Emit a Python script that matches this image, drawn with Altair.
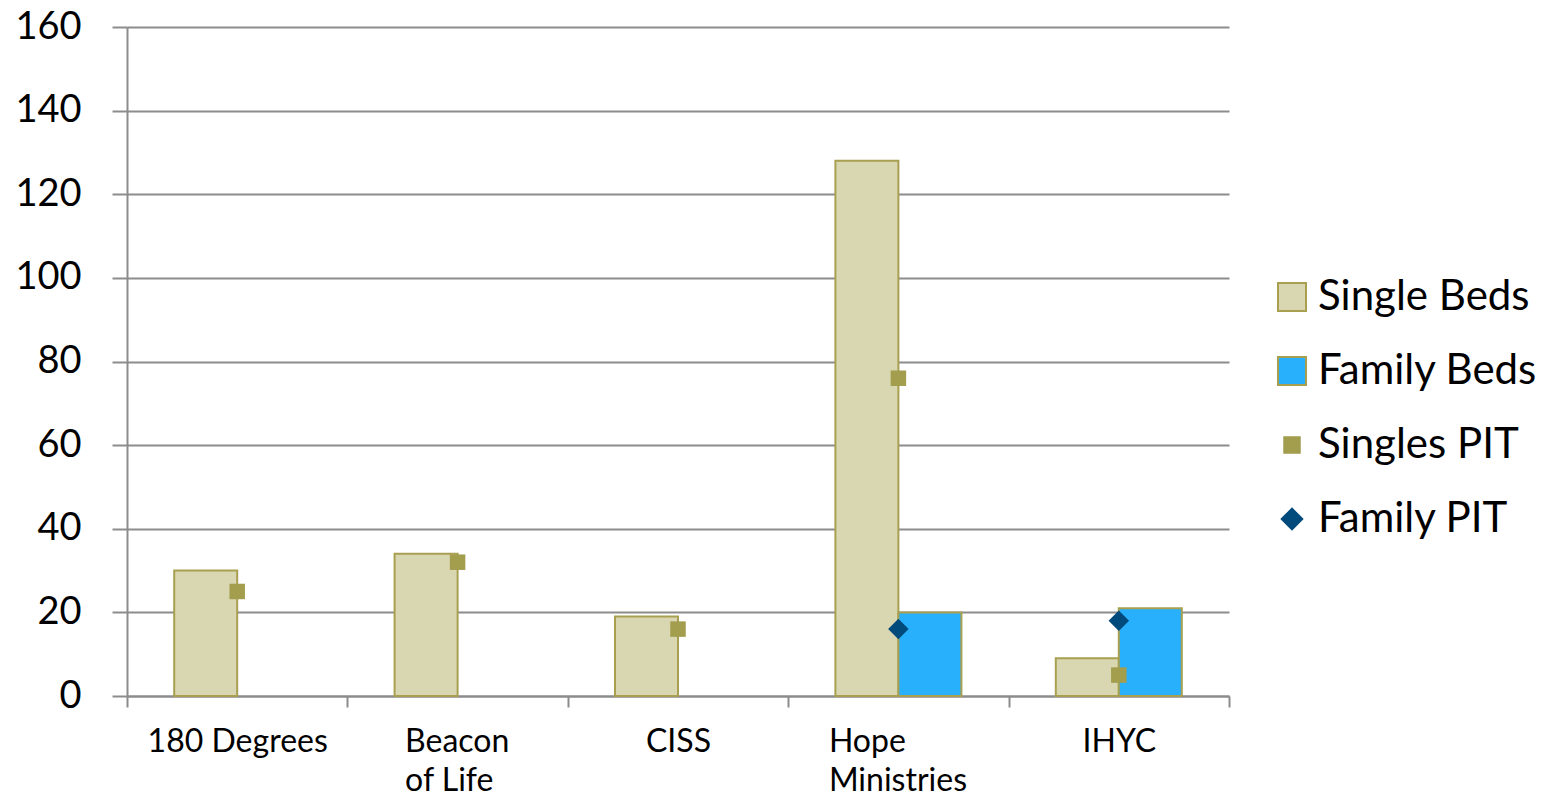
import altair as alt
import pandas as pd

categories = ["180 Degrees", "Beacon of Life", "CISS", "Hope Ministries", "IHYC"]
single_beds = [30, 34, 19, 128, 9]
family_beds = [None, None, None, 20, 21]
singles_pit = [25, 32, 16, 76, 5]
family_pit = [None, None, None, 16, 18]

series_names = ["Single Beds", "Family Beds", "Singles PIT", "Family PIT"]
fills = ["#d9d7b2", "#29b0fd", "#a39d4e", "#004a7c"]
strokes = ["#a8a050", "#a8a050", "#a39d4e", "#004a7c"]
shapes = ["square", "square", "square", "diamond"]
sizes = [784, 784, 240, 420]

bar_rows, pt_rows = [], []
for i, c in enumerate(categories):
    if single_beds[i] is not None:
        bar_rows.append({"cat": c, "series": "Single Beds", "value": single_beds[i]})
    if family_beds[i] is not None:
        bar_rows.append({"cat": c, "series": "Family Beds", "value": family_beds[i]})
    if singles_pit[i] is not None:
        pt_rows.append({"cat": c, "series": "Singles PIT", "value": singles_pit[i]})
    if family_pit[i] is not None:
        pt_rows.append({"cat": c, "series": "Family PIT", "value": family_pit[i]})

bars_df = pd.DataFrame(bar_rows)
pts_df = pd.DataFrame(pt_rows)

FONT = "Lato"
GRID = "#8c8c8c"

x_enc = alt.X(
    "cat:N",
    sort=categories,
    scale=alt.Scale(paddingInner=0, paddingOuter=0),
    axis=alt.Axis(
        title=None,
        labelAngle=0,
        labelFont=FONT,
        labelFontSize=32,
        labelColor="black",
        labelLineHeight=39,
        labelLimit=0,
        labelExpr="datum.label == 'Beacon of Life' ? ['Beacon', 'of Life'] : (datum.label == 'Hope Ministries' ? ['Hope', 'Ministries'] : datum.label)",
        labelBaseline="top",
        labelPadding=19,
        labelAlign={
            "condition": {
                "test": "datum.value == 'Beacon of Life' || datum.value == 'Hope Ministries'",
                "value": "left",
            },
            "value": "center",
        },
        labelOffset={
            "condition": [
                {"test": "datum.value == 'Beacon of Life'", "value": -53},
                {"test": "datum.value == 'Hope Ministries'", "value": -70},
            ],
            "value": 0,
        },
        tickBand="extent",
        tickSize=11,
        tickColor=GRID,
        tickWidth=2,
        domainColor=GRID,
        domainWidth=2,
        grid=False,
    ),
)

y_enc = alt.Y(
    "value:Q",
    scale=alt.Scale(domain=[0, 160]),
    axis=alt.Axis(
        title=None,
        values=[0, 20, 40, 60, 80, 100, 120, 140, 160],
        labelFont=FONT,
        labelFontSize=38,
        labelColor="black",
        labelPadding=31,
        tickSize=15,
        tickColor=GRID,
        tickWidth=2,
        domainColor=GRID,
        domainWidth=2,
        gridColor=GRID,
        gridWidth=2,
    ),
)

color_enc = alt.Color(
    "series:N",
    scale=alt.Scale(domain=series_names, range=fills),
    legend=alt.Legend(
        title=None,
        orient="none",
        legendX=1144,
        legendY=249,
        labelFont=FONT,
        labelFontSize=42,
        labelColor="black",
        labelOffset=5,
        labelLimit=0,
        rowPadding=32,
        symbolStrokeWidth=2,
        padding=0,
    ),
)
stroke_enc = alt.Stroke(
    "series:N",
    scale=alt.Scale(domain=series_names, range=strokes),
    legend=alt.Legend(title=None),
)

bars = alt.Chart(bars_df).mark_bar(strokeWidth=2).encode(
    x=x_enc,
    xOffset=alt.XOffset(
        "series:N",
        sort=["Single Beds", "Family Beds"],
        scale=alt.Scale(paddingInner=0, paddingOuter=0.749),
    ),
    y=y_enc,
    color=color_enc,
    stroke=stroke_enc,
)

points = alt.Chart(pts_df).mark_point(filled=True, opacity=1, strokeWidth=0).encode(
    x=alt.X("cat:N", sort=categories),
    y="value:Q",
    color=alt.Color("series:N"),
    stroke=alt.Stroke("series:N"),
    shape=alt.Shape(
        "series:N",
        scale=alt.Scale(domain=series_names, range=shapes),
        legend=alt.Legend(title=None),
    ),
    size=alt.Size(
        "series:N",
        scale=alt.Scale(type="ordinal", domain=series_names, range=sizes),
        legend=alt.Legend(title=None),
    ),
)

chart = (
    alt.layer(bars, points)
    .properties(
        width=1102,
        height=669,
        autosize=alt.AutoSizeParams(type="none"),
        padding={"left": 119, "top": 19, "right": 320, "bottom": 102},
    )
    .configure_view(stroke=None)
)

chart.save("out.html", embed_options={"renderer": "svg", "actions": False})
